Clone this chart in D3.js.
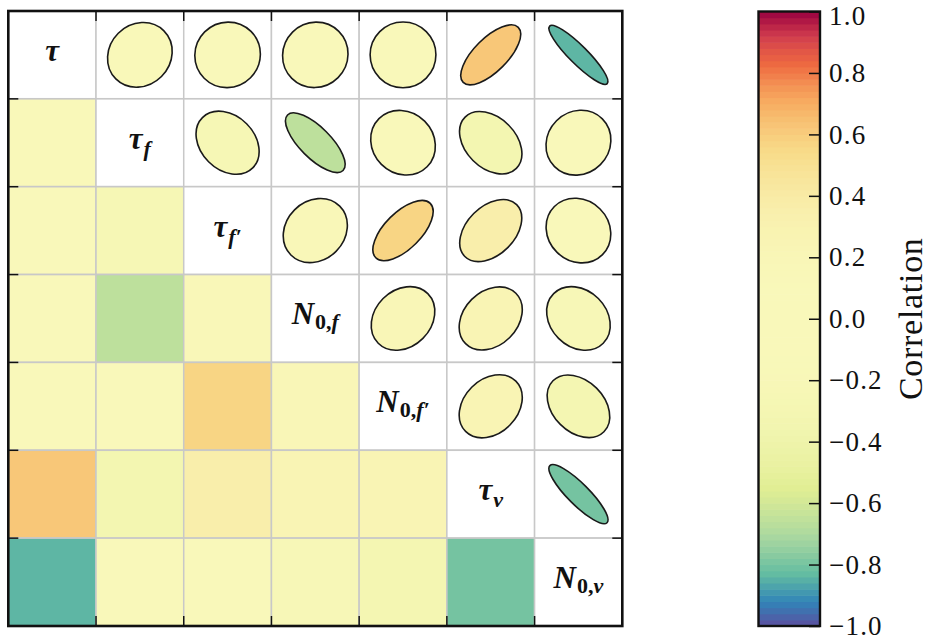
<!DOCTYPE html>
<html><head><meta charset="utf-8">
<script src="https://cdn.jsdelivr.net/npm/d3@7"></script>
<style>body{margin:0;background:#fff;} svg{display:block}</style>
</head><body><svg id="chart" width="930" height="642"></svg>
<script>
// ---- data ----
const variables = ["tau", "tau_f", "tau_fp", "N0_f", "N0_fp", "tau_v", "N0_v"];
const labelMain = ["τ", "τ", "τ", "N", "N", "τ", "N"];
const labelSubNum = ["", "", "", "0,", "0,", "", "0,"];
const labelSubVar = ["", "f", "f′", "f", "f′", "v", "v"];
const corrRow0 = [ 1.00,  0.10,  0.02,  0.03,  0.00,  0.62, -0.84];
const corrRow1 = [ 0.10,  1.00, -0.25, -0.66, -0.10, -0.32,  0.08];
const corrRow2 = [ 0.02, -0.25,  1.00,  0.15,  0.57,  0.36, -0.10];
const corrRow3 = [ 0.03, -0.66,  0.15,  1.00,  0.20,  0.25, -0.20];
const corrRow4 = [ 0.00, -0.10,  0.57,  0.20,  1.00,  0.25, -0.30];
const corrRow5 = [ 0.62, -0.32,  0.36,  0.25,  0.25,  1.00, -0.80];
const corrRow6 = [-0.84,  0.08, -0.10, -0.20, -0.30, -0.80,  1.00];
const corrMatrix = [corrRow0, corrRow1, corrRow2, corrRow3, corrRow4, corrRow5, corrRow6];
const colorbarTicks = [-1.0, -0.8, -0.6, -0.4, -0.2, 0.0, 0.2, 0.4, 0.6, 0.8, 1.0];
const spectralR = ["#5e4fa2","#3288bd","#66c2a5","#abdda4","#e6f598","#ffffbf","#fee08b","#fdae61","#f46d43","#d53e4f","#9e0142"];

// ---- scales ----
const svg = d3.select("#chart");
const gx0 = 8.3, gx1 = 622.3, gy0 = 11, gy1 = 626;
const x = d3.scaleBand().domain(variables).range([gx0, gx1]);
const y = d3.scaleBand().domain(variables).range([gy0, gy1]);
const cell = x.bandwidth();
const cmapLin = d3.scaleLinear().domain(d3.range(11).map(i => i / 10)).range(spectralR).interpolate(d3.interpolateRgb);
const norm = r => 0.5 + 0.5 * Math.sign(r) * Math.pow(Math.abs(r), 2.7);
const color = r => {
  const c = d3.rgb(cmapLin(norm(r)));
  return d3.rgb(c.r * 0.977, c.g * 0.972, c.b * 0.975).formatHex();
};

// ---- cells ----
const cells = [];
corrMatrix.forEach((row, i) => row.forEach((v, j) => cells.push({i, j, v})));
const g = svg.append("g");
g.selectAll("rect.cell").data(cells).join("rect")
  .attr("class", "cell")
  .attr("x", d => x(variables[d.j]))
  .attr("y", d => y(variables[d.i]))
  .attr("width", cell).attr("height", cell)
  .attr("fill", d => d.j < d.i ? color(d.v) : "#ffffff")
  .attr("stroke", "#c8c8c8").attr("stroke-width", 1.5);

// ---- ellipses (upper triangle) ----
const R = cell * 0.375;
g.selectAll("ellipse").data(cells.filter(d => d.j > d.i)).join("ellipse")
  .attr("transform", d => `translate(${x(variables[d.j]) + cell / 2},${y(variables[d.i]) + cell / 2}) rotate(${d.v >= 0 ? -45 : 45})`)
  .attr("rx", d => R * Math.pow(1 + Math.abs(d.v), 0.35))
  .attr("ry", d => R * Math.pow(1 - Math.abs(d.v), 0.7))
  .attr("fill", d => color(d.v))
  .attr("stroke", "#1a1a1a").attr("stroke-width", 1.6);

// ---- diagonal labels ----
const lab = g.selectAll("text.diag").data(variables).join("text")
  .attr("class", "diag")
  .attr("x", d => x(d) + cell / 2)
  .attr("y", d => y(d) + cell / 2 + 6)
  .attr("text-anchor", "middle")
  .style("font-family", "'Liberation Serif', 'DejaVu Serif', serif")
  .style("font-weight", "bold")
  .style("font-size", "31px")
  .attr("fill", "#111");
lab.each(function(d, k) {
  const t = d3.select(this);
  t.append("tspan").style("font-style", "italic").text(labelMain[k]);
  if (labelSubNum[k]) {
    t.append("tspan").attr("dy", 5).attr("dx", 1).style("font-size", "22px").text(labelSubNum[k]);
    t.append("tspan").style("font-size", "22px").style("font-style", "italic").text(labelSubVar[k]);
  } else if (labelSubVar[k]) {
    t.append("tspan").attr("dy", 7).attr("dx", 1).style("font-size", "22px").style("font-style", "italic").text(labelSubVar[k]);
  }
});

// ---- frame and ticks ----
g.append("rect").attr("x", gx0).attr("y", gy0).attr("width", gx1 - gx0).attr("height", gy1 - gy0)
  .attr("fill", "none").attr("stroke", "#111").attr("stroke-width", 2.6);
const inner = variables.slice(1);
const tk = 10;
inner.forEach(v => {
  const xv = x(v), yv = y(v);
  g.append("line").attr("x1", xv).attr("x2", xv).attr("y1", gy0).attr("y2", gy0 + tk).attr("stroke", "#111").attr("stroke-width", 1.5);
  g.append("line").attr("x1", xv).attr("x2", xv).attr("y1", gy1).attr("y2", gy1 - tk).attr("stroke", "#111").attr("stroke-width", 1.5);
  g.append("line").attr("y1", yv).attr("y2", yv).attr("x1", gx0).attr("x2", gx0 + tk).attr("stroke", "#111").attr("stroke-width", 1.5);
  g.append("line").attr("y1", yv).attr("y2", yv).attr("x1", gx1).attr("x2", gx1 - tk).attr("stroke", "#111").attr("stroke-width", 1.5);
});

// ---- colorbar ----
const cbx0 = 758.5, cbx1 = 820, cby0 = 11.5, cby1 = 626;
const cbScale = d3.scaleLinear().domain([-1, 1]).range([cby1, cby0]);
const nb = 100;
const bands = d3.range(nb).map(k => -1 + (k + 0.5) * 2 / nb);
const cb = svg.append("g");
cb.selectAll("rect.band").data(bands).join("rect")
  .attr("class", "band")
  .attr("x", cbx0)
  .attr("width", cbx1 - cbx0)
  .attr("y", d => cbScale(d + 1 / nb))
  .attr("height", d => cbScale(d - 1 / nb) - cbScale(d + 1 / nb) + 0.6)
  .attr("fill", d => color(d));
cb.append("rect").attr("x", cbx0).attr("y", cby0).attr("width", cbx1 - cbx0).attr("height", cby1 - cby0)
  .attr("fill", "none").attr("stroke", "#111").attr("stroke-width", 2.4);
const axis = d3.axisRight(cbScale).tickValues(colorbarTicks)
  .tickSizeInner(-11).tickSizeOuter(0).tickPadding(9)
  .tickFormat(d => (d < 0 ? "\u2212" : "") + Math.abs(d).toFixed(1));
const ax = cb.append("g").attr("transform", `translate(${cbx1},0)`).call(axis);
ax.select(".domain").remove();
ax.selectAll(".tick line").attr("stroke", "#111").attr("stroke-width", 1.5);
ax.selectAll(".tick text")
  .style("font-family", "'Liberation Serif', 'DejaVu Serif', serif")
  .style("font-size", "27px").style("letter-spacing", "1.2px").attr("fill", "#111")
  .attr("dy", d => d === 1 ? "0.48em" : "0.32em");
cb.append("text")
  .attr("transform", `translate(922,${(cby0 + cby1) / 2}) rotate(-90)`)
  .attr("text-anchor", "middle")
  .style("font-family", "'Liberation Serif', 'DejaVu Serif', serif")
  .style("font-size", "34px").style("letter-spacing", "0.7px").attr("fill", "#111")
  .text("Correlation");
</script></body></html>
